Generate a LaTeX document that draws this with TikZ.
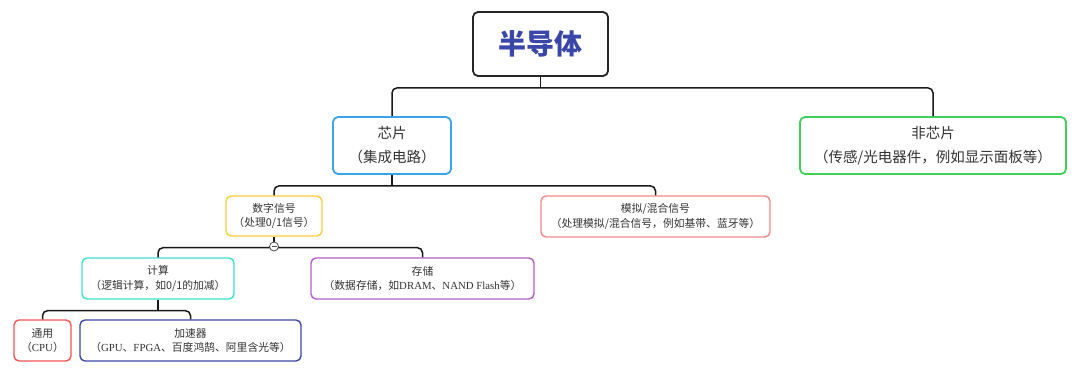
\documentclass[tikz,border=0pt]{standalone}
\usepackage{fontspec}
\newfontfamily\cjk{Noto Sans CJK SC}
\newfontfamily\lat{Liberation Serif}
\definecolor{rootblue}{HTML}{3A46A8}
\definecolor{cblue}{HTML}{3AA3EC}
\definecolor{cgreen}{HTML}{3FD05C}
\definecolor{cyellow}{HTML}{F7D03C}
\definecolor{cpink}{HTML}{F28A8A}
\definecolor{ccyan}{HTML}{3EE0CC}
\definecolor{cpurple}{HTML}{B45ECA}
\definecolor{cred}{HTML}{F25555}
\definecolor{cnavy}{HTML}{3C48A4}
\definecolor{txt}{HTML}{333333}
\tikzset{
  box/.style={draw, rounded corners=5pt, align=center, inner sep=0pt, fill=white, text=txt},
  big/.style={box, line width=1.8pt, font=\cjk\fontsize{14.5}{24}\selectfont},
  small/.style={box, line width=1.4pt, font=\cjk\fontsize{10.8}{14.5}\selectfont},
  conn/.style={draw=black!90, line width=1.5pt, rounded corners=5pt},
  stem/.style={draw=black!90, line width=1.5pt},
}
\begin{document}
\begin{tikzpicture}[x=1pt,y=-1pt]
\useasboundingbox (0,0) rectangle (1080,375);
% nodes
\node[box, draw=black!85, line width=1.8pt, minimum width=135pt, minimum height=64pt,
      font=\cjk\bfseries\fontsize{28}{30}\selectfont, text=rootblue] (root) at (540.5,44) {半导体};
\node[big, draw=cblue, minimum width=118pt, minimum height=57pt] (chip) at (392,145.5) {芯片\\（集成电路）};
\node[big, draw=cgreen, minimum width=266pt, minimum height=57pt] (nonchip) at (933,145.5) {非芯片\\（传感/光电器件，例如显示面板等）};
\node[small, draw=cyellow, minimum width=96pt, minimum height=40pt] (digital) at (274,216) {数字信号\\（处理0/1信号）};
\node[small, draw=cpink, minimum width=229pt, minimum height=41pt] (analog) at (655.5,216.5) {模拟/混合信号\\（处理模拟/混合信号，例如基带、蓝牙等）};
\node[small, draw=ccyan, minimum width=152pt, minimum height=41pt] (compute) at (158,278.5) {计算\\（逻辑计算，如0/1的加减）};
\node[small, draw=cpurple, minimum width=223pt, minimum height=41pt] (storage) at (422.5,278.5) {存储\\（数据存储，如{\lat DRAM}、{\lat NAND Flash}等）};
\node[small, draw=cred, minimum width=57pt, minimum height=41pt] (general) at (42.5,340.5) {通用\\（{\lat CPU}）};
\node[small, draw=cnavy, minimum width=221pt, minimum height=41pt] (accel) at (190.5,340.5) {加速器\\（{\lat GPU}、{\lat FPGA}、百度鸿鹄、阿里含光等）};
% connectors
\draw[stem] (root.south) -- ++(0,11) coordinate (j1);
\draw[conn] (j1) -| (chip.north);
\draw[conn] (j1) -| (nonchip.north);
\draw[stem] (chip.south) -- ++(0,11) coordinate (j2);
\draw[conn] (j2) -| (digital.north);
\draw[conn] (j2) -| (analog.north);
\draw[stem] (digital.south) -- ++(0,11) coordinate (j3);
\draw[conn] (j3) -| (compute.north);
\draw[conn] (j3) -| (storage.north);
\draw[stem] (compute.south) -- ++(0,11) coordinate (j4);
\draw[conn] (j4) -| (general.north);
\draw[conn] (j4) -| (accel.north);
% collapse marker
\node[circle, draw=black!70, fill=white, line width=0.8pt, minimum size=9pt, inner sep=0pt] (toggle) at (274,246.5) {};
\draw[black!70, line width=0.8pt] ([xshift=-2.5pt]toggle.center) -- ([xshift=2.5pt]toggle.center);
\end{tikzpicture}
\end{document}
